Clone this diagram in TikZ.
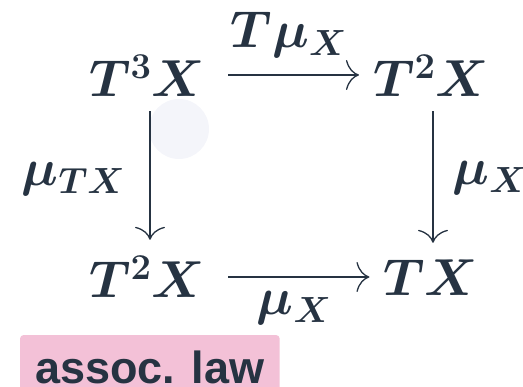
\RequirePackage{fix-cm}
\documentclass[tikz,border=0pt]{standalone}
\usepackage{amsmath,bm}
\usepackage[no-math]{fontspec}
\newfontfamily\lawfont{Liberation Sans}
\usetikzlibrary{arrows.meta,positioning}
\definecolor{ink}{HTML}{263342}
\definecolor{lawpink}{HTML}{F3C1D7}
\definecolor{spotgray}{HTML}{F4F5FA}
\newcommand\objsize{\fontsize{52}{62}\selectfont}
\tikzset{obj/.style={inner sep=0pt,text height=36pt,text depth=0pt,font=\objsize,text=ink},
 lab/.style={inner sep=0pt,font=\objsize,text=ink},
 arr/.style={draw=ink,line width=1.3pt,-{Computer Modern Rightarrow[length=13pt,width=30pt,line width=1.3pt]}},
 law/.style={fill=lawpink,rounded corners=3pt,inner xsep=15pt,inner ysep=15pt,text height=33pt,text depth=10pt,
  font=\lawfont\bfseries\fontsize{45}{54}\selectfont,text=ink},
 spot/.style={circle,fill=spotgray,minimum size=60pt,inner sep=0pt}}

\begin{document}
\begin{tikzpicture}[x=1pt,y=-1pt]
\useasboundingbox (0,0) rectangle (523,387);
\clip (0,0) rectangle (523,387);
\node[spot] (spot) at (179,129) {};
\node[obj] (tl) at (147,79) {$\bm{T^3X}$};
\node[obj] (tr) at (431,79) {$\bm{T^2X}$};
\node[obj] (bl) at (147,280) {$\bm{T^2X}$};
\node[obj] (br) at (431,278) {$\bm{TX}$};
\draw[arr,shorten <=23pt,shorten >=14pt] ([yshift=4pt]tl.east) -- node[lab,above=17pt]{$\bm{T\mu_X}$} ([yshift=4pt]tr.west);
\draw[arr,shorten <=23pt,shorten >=14pt] ([yshift=3pt]bl.east) -- node[lab,below=14pt]{$\bm{\mu_X}$} ([yshift=3pt]bl.east -| br.west);
\draw[arr,shorten <=14pt,shorten >=22pt] ([xshift=3pt]tl.south) -- node[lab,left=24pt]{$\bm{\mu_{TX}}$} ([xshift=3pt]bl.north);
\draw[arr,shorten <=14pt,shorten >=17pt] ([xshift=2pt]tr.south) -- node[lab,right=19pt]{$\bm{\mu_X}$} ([xshift=2pt]br.north);
\node[law,anchor=north west] (assoc) at (20,335) {assoc. law};
\end{tikzpicture}
\end{document}
